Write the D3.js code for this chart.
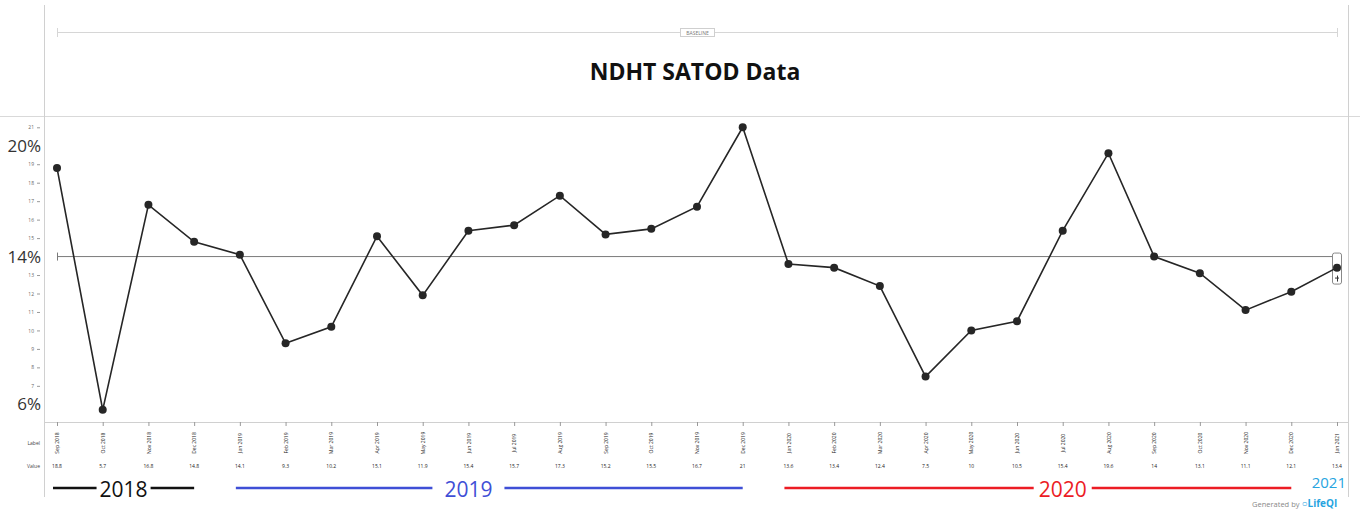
<!DOCTYPE html>
<html>
<head>
<meta charset="utf-8">
<script src="https://cdn.jsdelivr.net/npm/d3@7"></script>
<style>
  body { margin: 0; background: #fff; }
  svg { font-family: "Open Sans", sans-serif; display: block; }
</style>
</head>
<body>
<div id="chart"></div>
<script>
// chart data
const months = [
  "Sep 2018", "Oct 2018", "Nov 2018", "Dec 2018",
  "Jan 2019", "Feb 2019", "Mar 2019", "Apr 2019", "May 2019", "Jun 2019",
  "Jul 2019", "Aug 2019", "Sep 2019", "Oct 2019", "Nov 2019", "Dec 2019",
  "Jan 2020", "Feb 2020", "Mar 2020", "Apr 2020", "May 2020", "Jun 2020",
  "Jul 2020", "Aug 2020", "Sep 2020", "Oct 2020", "Nov 2020", "Dec 2020",
  "Jan 2021"
];
const values = [
  18.8, 5.7, 16.8, 14.8,
  14.1, 9.3, 10.2, 15.1, 11.9, 15.4,
  15.7, 17.3, 15.2, 15.5, 16.7, 21,
  13.6, 13.4, 12.4, 7.5, 10, 10.5,
  15.4, 19.6, 14, 13.1, 11.1, 12.1,
  13.4
];
const yTicks = d3.range(6, 22);
const percentLabels = [20, 14, 6];
const centreValue = 14;
const yearNames = ["2018", "2019", "2020", "2021"];
const yearFrom = ["Sep 2018", "Jan 2019", "Jan 2020", "Jan 2021"];
const yearTo = ["Dec 2018", "Dec 2019", "Dec 2020", "Jan 2021"];
const yearAt = [null, "Jun 2019", "Jul 2020", null];

const yearColors = { "2018": "#111", "2019": "#3f4fd6", "2020": "#ec1c24", "2021": "#27a4df" };
const yearGaps = { "2018": 3, "2019": 12, "2020": 5 };

const width = 1360;
const height = 510;

const svg = d3.select("#chart")
  .append("svg")
  .attr("width", width)
  .attr("height", height);

const x = d3.scalePoint()
  .domain(months)
  .range([57, 1337]);

const y = d3.scaleLinear()
  .domain([6, 21])
  .range([404.3, 127.3]);

// frame lines
svg.append("line").attr("x1", 0).attr("x2", width).attr("y1", 116.5).attr("y2", 116.5)
  .attr("stroke", "#d9d9d9");
svg.append("line").attr("x1", 44.5).attr("x2", 44.5).attr("y1", 5).attr("y2", 497)
  .attr("stroke", "#d0d0d0");
svg.append("line").attr("x1", 1348.5).attr("x2", 1348.5).attr("y1", 5).attr("y2", 497)
  .attr("stroke", "#d0d0d0");

// baseline bracket
const bl = svg.append("g").attr("stroke", "#d6d6d6");
bl.append("line").attr("x1", x(months[0])).attr("x2", x(months[months.length - 1]))
  .attr("y1", 32.5).attr("y2", 32.5);
bl.append("line").attr("x1", x(months[0]) + 0.5).attr("x2", x(months[0]) + 0.5)
  .attr("y1", 28).attr("y2", 37);
bl.append("line").attr("x1", x(months[months.length - 1]) + 0.5).attr("x2", x(months[months.length - 1]) + 0.5)
  .attr("y1", 28).attr("y2", 37);
svg.append("rect").attr("x", 680.5).attr("y", 28.5).attr("width", 34).attr("height", 8)
  .attr("fill", "#fff").attr("stroke", "#cfcfcf");
svg.append("text").attr("x", 697.5).attr("y", 34.5).attr("text-anchor", "middle")
  .attr("font-size", 5).attr("fill", "#777").text("BASELINE");

// title
svg.append("text")
  .attr("x", 695).attr("y", 80)
  .attr("text-anchor", "middle")
  .attr("font-size", 23).attr("font-weight", "bold").attr("fill", "#111")
  .text("NDHT SATOD Data");

// y axis (tiny ticks; the big % labels sit over 20, 14 and 6)
const yAxis = svg.append("g")
  .attr("transform", "translate(40,0)")
  .call(d3.axisLeft(y).tickValues(yTicks).tickSize(3).tickPadding(3)
    .tickFormat(d => percentLabels.includes(d) ? "" : d3.format("d")(d)));
yAxis.select(".domain").remove();
yAxis.selectAll("line").attr("stroke", "#999");
yAxis.selectAll("text").attr("font-size", 5).attr("fill", "#666").attr("font-family", "Open Sans");

// big percent labels
svg.selectAll(".pct")
  .data(percentLabels)
  .join("text")
  .attr("class", "pct")
  .attr("x", 41).attr("y", d => y(d))
  .attr("dy", "0.36em")
  .attr("text-anchor", "end")
  .attr("font-size", 17).attr("fill", "#333")
  .text(d => d + "%");

// x axis
svg.append("line").attr("x1", 44).attr("x2", 1348).attr("y1", 422.5).attr("y2", 422.5)
  .attr("stroke", "#d0d0d0");
const xAxis = svg.append("g")
  .attr("transform", "translate(0,422)")
  .call(d3.axisBottom(x).tickSize(4));
xAxis.select(".domain").remove();
xAxis.selectAll("line").attr("stroke", "#999");
xAxis.selectAll("text")
  .attr("transform", "rotate(-90)")
  .attr("x", -21).attr("y", 0).attr("dy", "0.32em")
  .attr("text-anchor", "middle")
  .attr("font-size", 5).attr("fill", "#222").attr("font-family", "Open Sans");

svg.append("text").attr("x", 40).attr("y", 443).attr("dy", "0.32em").attr("text-anchor", "end")
  .attr("font-size", 5).attr("fill", "#444").text("Label");
svg.append("text").attr("x", 40).attr("y", 466).attr("dy", "0.32em").attr("text-anchor", "end")
  .attr("font-size", 5).attr("fill", "#444").text("Value");

svg.selectAll(".val")
  .data(values)
  .join("text")
  .attr("class", "val")
  .attr("x", (d, i) => x(months[i]))
  .attr("y", 466).attr("dy", "0.32em")
  .attr("text-anchor", "middle")
  .attr("font-size", 5).attr("fill", "#222")
  .text(d => d);

// centre line
svg.append("line")
  .attr("x1", x(months[0])).attr("x2", x(months[months.length - 1]))
  .attr("y1", y(centreValue)).attr("y2", y(centreValue))
  .attr("stroke", "#7a7a7a").attr("stroke-width", 1);
svg.append("line")
  .attr("x1", x(months[0]) + 0.5).attr("x2", x(months[0]) + 0.5)
  .attr("y1", y(centreValue) - 4).attr("y2", y(centreValue) + 4)
  .attr("stroke", "#7a7a7a");

// small end marker
const mx = x(months[months.length - 1]);
svg.append("rect").attr("x", mx - 4.5).attr("y", y(centreValue) - 3.5).attr("width", 9).attr("height", 31)
  .attr("rx", 2).attr("fill", "#fff").attr("stroke", "#888");
svg.append("line").attr("x1", mx - 2).attr("x2", mx + 2).attr("y1", y(centreValue) + 21.5).attr("y2", y(centreValue) + 21.5)
  .attr("stroke", "#333");
svg.append("line").attr("x1", mx + 0.5).attr("x2", mx + 0.5).attr("y1", y(centreValue) + 19).attr("y2", y(centreValue) + 25)
  .attr("stroke", "#333");

// data line + points
const line = d3.line()
  .x((d, i) => x(months[i]))
  .y(d => y(d));

svg.append("path")
  .datum(values)
  .attr("fill", "none")
  .attr("stroke", "#262626")
  .attr("stroke-width", 1.6)
  .attr("d", line);

svg.selectAll(".pt")
  .data(values)
  .join("circle")
  .attr("class", "pt")
  .attr("cx", (d, i) => x(months[i]))
  .attr("cy", d => y(d))
  .attr("r", 4)
  .attr("fill", "#262626");

// year bands under the axis
yearNames.forEach((name, i) => {
  const x0 = x(yearFrom[i]) - 4;
  const x1 = x(yearTo[i]);
  const col = yearColors[name];
  if (yearFrom[i] === yearTo[i]) {
    svg.append("text").attr("x", 1346).attr("y", 488).attr("text-anchor", "end")
      .attr("font-size", 15).attr("fill", col).text(name);
    return;
  }
  const cx = yearAt[i] ? x(yearAt[i]) : (x0 + x1) / 2;
  const t = svg.append("text").attr("x", cx).attr("y", 497).attr("text-anchor", "middle")
    .attr("font-size", 21).attr("fill", col).text(name);
  const half = t.node().getComputedTextLength() / 2 + yearGaps[name];
  svg.append("line").attr("x1", x0).attr("x2", cx - half).attr("y1", 488).attr("y2", 488)
    .attr("stroke", col).attr("stroke-width", 2.5);
  svg.append("line").attr("x1", cx + half).attr("x2", x1).attr("y1", 488).attr("y2", 488)
    .attr("stroke", col).attr("stroke-width", 2.5);
});

// footer
const foot = svg.append("text").attr("x", 1252).attr("y", 507).attr("font-size", 7.5).attr("fill", "#888");
foot.append("tspan").text("Generated by ");
foot.append("tspan").attr("fill", "#27a4df").attr("font-weight", "bold").attr("font-size", 10).text("\u25CBLifeQI");
</script>
</body>
</html>
